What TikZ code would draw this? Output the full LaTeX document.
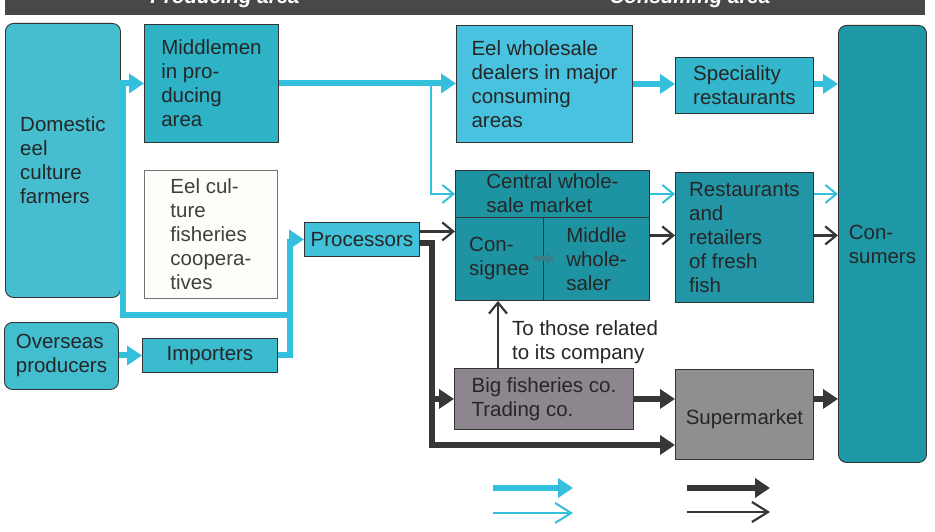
\documentclass[tikz,border=0pt]{standalone}
\usepackage{fontspec}
\setmainfont{Liberation Sans}
\usetikzlibrary{arrows.meta}
\definecolor{cdom}{RGB}{70,190,208}
\definecolor{cmid}{RGB}{45,178,198}
\definecolor{ccoop}{RGB}{253,253,250}
\definecolor{cproc}{RGB}{66,194,218}
\definecolor{cimp}{RGB}{58,188,206}
\definecolor{covs}{RGB}{66,190,208}
\definecolor{cews}{RGB}{72,194,222}
\definecolor{cteal}{RGB}{30,148,163}
\definecolor{cspec}{RGB}{52,182,204}
\definecolor{crest}{RGB}{34,150,166}
\definecolor{ccons}{RGB}{30,152,166}
\definecolor{cbig}{RGB}{141,134,143}
\definecolor{csup}{RGB}{143,143,143}
\definecolor{lcyan}{RGB}{52,192,220}
\definecolor{ldark}{RGB}{55,55,55}
\definecolor{barcol}{RGB}{72,72,72}
\definecolor{csmall}{RGB}{55,125,138}
\tikzset{
  box/.style={draw=black!80, line width=0.9pt, rectangle, inner sep=0pt, anchor=north west,
    align=left, font=\fontsize{20.5}{24}\selectfont, text=black!85},
  cyanthick/.style={draw=lcyan, line width=6pt},
  cyanthin/.style={draw=lcyan, line width=2pt},
  darkthick/.style={draw=ldark, line width=6pt},
  darkthin/.style={draw=ldark, line width=2.2pt},
  fat/.style={-{Triangle[length=15pt,width=19pt]}},
  barb/.style={-{Straight Barb[length=11pt,width=18pt]}},
  legbarb/.style={-{Straight Barb[length=16pt,width=20pt]}},
}
\begin{document}
\begin{tikzpicture}[x=1pt,y=-1pt]
\useasboundingbox (0,0) rectangle (935,532);
\fill[white] (0,0) rectangle (935,532);
% header bar
\begin{scope}
\clip (0,0) rectangle (935,532);
\fill[barcol] (5,-5) rectangle (925,15);
\node[font=\fontsize{20.5}{24}\selectfont\bfseries\itshape, text=white, anchor=base, inner sep=0pt] (prodarea) at (225,4) {Producing area};
\node[font=\fontsize{20.5}{24}\selectfont\bfseries\itshape, text=white, anchor=base, inner sep=0pt] (consarea) at (690,4) {Consuming area};
\end{scope}

% boxes
\node[box, fill=cdom, rounded corners=8pt, minimum width=115pt, minimum height=274pt] (dom) at (5,23) {Domestic\\eel\\culture\\farmers};
\node[box, fill=cmid, minimum width=134pt, minimum height=118pt] (mid) at (144,24) {Middlemen\\in pro-\\ducing\\area};
\node[box, fill=ccoop, draw=black!55, text=black!75, minimum width=133pt, minimum height=128pt] (coop) at (144,170) {Eel cul-\\ture\\fisheries\\coopera-\\tives};
\node[box, fill=cproc, minimum width=115pt, minimum height=34pt] (proc) at (304,222) {Processors};
\node[box, fill=cimp, minimum width=135pt, minimum height=34pt] (imp) at (142,338) {Importers};
\node[box, fill=covs, rounded corners=8pt, minimum width=114pt, minimum height=67pt] (ovs) at (4,322) {Overseas\\producers};
\node[box, fill=cews, minimum width=176pt, minimum height=117pt] (ews) at (456,25) {Eel wholesale\\dealers in major\\consuming\\areas};
\node[box, fill=cteal, minimum width=194pt, minimum height=130pt] (cwm) at (455,170) {};
\node[box, fill=cteal, minimum width=194pt, minimum height=47pt, text depth=2pt] (cwt) at (455,170) {Central whole-\\sale market};
\node[box, fill=cteal, minimum width=88pt, minimum height=83pt] (csg) at (455,217) {Con-\\signee};
\node[box, fill=cteal, minimum width=106pt, minimum height=83pt] (mws) at (543,217) {Middle\\whole-\\saler};
\node[box, fill=cspec, minimum width=138pt, minimum height=56pt] (spec) at (675,57) {Speciality\\restaurants};
\node[box, fill=crest, minimum width=138pt, minimum height=130pt] (rest) at (675,172) {Restaurants\\and\\retailers\\of fresh\\fish};
\node[box, fill=ccons, rounded corners=8pt, minimum width=88pt, minimum height=437pt] (cons) at (838,25) {Con-\\sumers};
\node[box, fill=cbig, minimum width=179pt, minimum height=61pt] (big) at (454,368) {Big fisheries co.\\Trading co.};
\node[box, fill=csup, minimum width=138pt, minimum height=90pt, text height=25pt] (sup) at (675,369) {Supermarket};
\node[font=\fontsize{20.5}{24}\selectfont, text=black!85, align=left, anchor=north west, inner sep=0pt] (note) at (512,320) {To those related\\to its company};

% helper coordinates
\coordinate (dsplit) at (123,80);
\coordinate (j2) at (290,315);
\coordinate (b1) at (431,83);
\coordinate (pd) at (432,445);

% thick cyan flows
\draw[cyanthick, fat] (dom.east |- mid.west) -- (mid.west);
\draw[cyanthick, fat] (dsplit) |- (j2) |- (proc.west);
\draw[cyanthick] (imp.east) -| (j2);
\draw[cyanthick, fat] (ovs.east |- imp.west) -- (imp.west);
\draw[cyanthick, fat] (mid.east) -- (mid.east -| ews.west);
\draw[cyanthick, fat] (ews.east) -- (ews.east -| spec.west);
\draw[cyanthick, fat] (spec.east |- ews.east) -- (ews.east -| cons.west);

% thin cyan flows
\draw[cyanthin, barb] (b1) |- (cwt.west);
\draw[cyanthin, barb] (cwt.east) -- (cwt.east -| rest.west);
\draw[cyanthin, barb] (rest.east |- cwt.east) -- (cwt.east -| cons.west);

% thin dark flows
\draw[darkthin, barb] ([yshift=8pt]proc.east) -- ([yshift=8pt]proc.east -| csg.west);
\draw[darkthin, barb] (cwm.east) -- (cwm.east -| rest.west);
\draw[darkthin, barb] (rest.east |- cwm.east) -- (cwm.east -| cons.west);
\draw[darkthin, barb] ([xshift=44pt]big.north west) -- ([xshift=44pt]big.north west |- csg.south);

% thick dark flows
\draw[darkthick, fat] ([yshift=-4pt]proc.east) -| (pd) -- (pd -| sup.west);
\draw[darkthick, fat] (pd |- big.west) -- (big.west);
\draw[darkthick, fat] (big.east) -- (big.east -| sup.west);
\draw[darkthick, fat] (sup.east |- big.east) -- (big.east -| cons.west);

% consignee -> middle wholesaler
\draw[draw=csmall, line width=5pt, -{Triangle[length=8pt,width=11pt]}] ([xshift=-10pt]csg.east) -- ([xshift=12pt]mws.west);

% legend
\coordinate (lga) at (493,488);
\coordinate (lgb) at (573,488);
\coordinate (lgc) at (493,513);
\coordinate (lgd) at (573,513);
\coordinate (lge) at (687,488);
\coordinate (lgf) at (770,488);
\coordinate (lgg) at (687,512);
\coordinate (lgh) at (770,512);
\draw[cyanthick, fat] (lga) -- (lgb);
\draw[cyanthin, legbarb] (lgc) -- (lgd);
\draw[darkthick, fat] (lge) -- (lgf);
\draw[darkthin, legbarb] (lgg) -- (lgh);
\end{tikzpicture}
\end{document}
